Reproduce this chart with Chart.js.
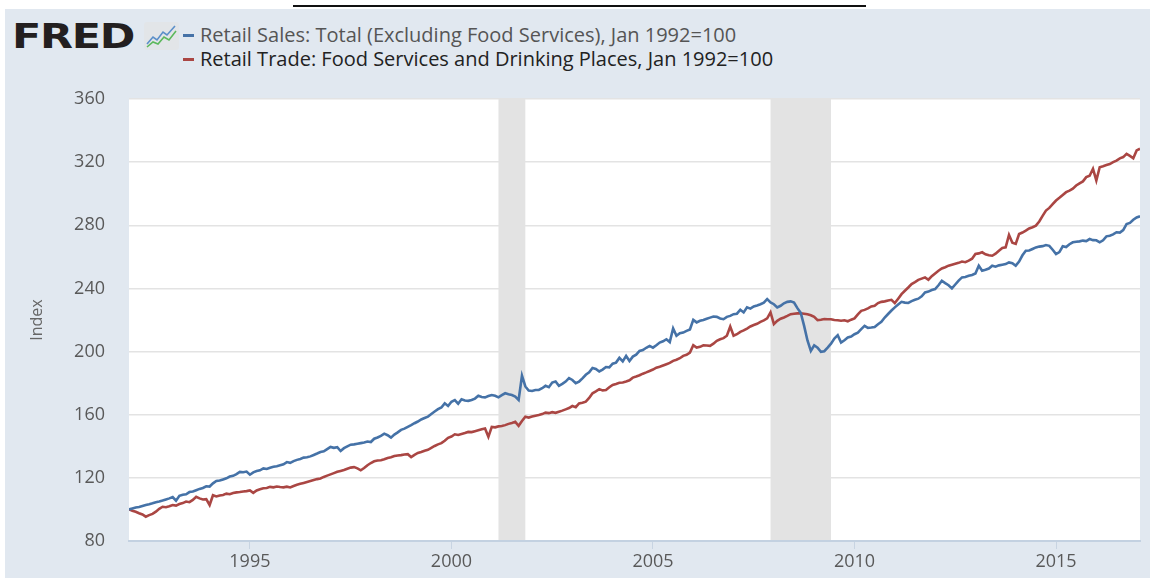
<!DOCTYPE html>
<html>
<head>
<meta charset="utf-8">
<script src="https://cdn.jsdelivr.net/npm/chart.js@4"></script>
<style>
  body { margin: 0; width: 1150px; height: 578px; overflow: hidden; position: relative; background: #fff; font-family: "Open Sans", sans-serif; }
  .frame { position: absolute; left: 5px; top: 9px; width: 1145px; height: 569px; background: #e1e8f0; }
  .rule { position: absolute; left: 293px; top: 5px; width: 573px; height: 2px; background: #111; }
  .logo { position: absolute; left: 12px; top: 17px; font: bold 33px "DejaVu Sans", sans-serif; color: #231f20; transform: scaleX(1.3); transform-origin: left top; letter-spacing: -1px; }
  .icon { position: absolute; left: 144px; top: 22px; }
  .item { position: absolute; left: 183px; height: 22px; }
  .item i { position: absolute; left: 0; top: 10px; width: 11px; height: 3px; }
  .item span { position: absolute; left: 17px; top: 0; line-height: 22px; font-size: 20px; white-space: nowrap; }
  #wrap { position: absolute; left: 0; top: 0; width: 1150px; height: 578px; }
</style>
</head>
<body>
<div class="frame"></div>
<div class="rule"></div>
<div class="logo">FRED</div>
<svg class="icon" width="35" height="28" viewBox="0 0 35 28">
  <rect x="0" y="0" width="35" height="28" rx="3" fill="#e2e5e8"/>
  <polyline points="3,22 9,15 13,18 19,10 23,13 31,4" fill="none" stroke="#5b8fc9" stroke-width="1.6"/>
  <polyline points="3,25 9,20 14,22 20,15 25,18 32,9" fill="none" stroke="#5cb85c" stroke-width="1.6"/>
</svg>
<div class="item" style="top:24px"><i style="background:#4572a7"></i><span style="color:#555">Retail Sales: Total (Excluding Food Services), Jan 1992=100</span></div>
<div class="item" style="top:48px"><i style="background:#aa4643"></i><span style="color:#222">Retail Trade: Food Services and Drinking Places, Jan 1992=100</span></div>
<div id="wrap"><canvas id="fredChart" width="1150" height="578"></canvas></div>
<script>
// SERIES (monthly, Jan 1992 - Feb 2017)
const startYear = 1992;

const retailSales = [
  100.0, 100.6, 101.2, 101.5, 102.2, 102.8, 103.3, 103.9, 104.6, 105.0, 105.6, 106.3,
  107.0, 107.8, 105.5, 108.6, 109.3, 109.6, 111.0, 111.4, 112.2, 113.0, 113.6, 114.7,
  114.5, 116.5, 118.0, 118.3, 119.0, 119.7, 120.8, 121.3, 122.4, 123.8, 123.6, 124.0,
  122.0, 123.5, 124.3, 124.8, 126.0, 125.6, 126.4, 127.0, 127.4, 128.0, 128.6, 130.0,
  129.5, 130.6, 131.4, 132.0, 132.8, 133.0, 133.6, 134.5, 135.4, 136.4, 136.8, 138.2,
  139.6, 139.0, 139.4, 137.0, 138.8, 139.9, 141.0, 141.2, 141.6, 142.0, 142.4, 143.0,
  142.7, 144.8, 145.6, 146.6, 148.0, 147.0, 145.5, 147.4, 148.8, 150.4, 151.2, 152.3,
  153.4, 154.6, 155.7, 157.0, 157.9, 158.8, 160.4, 162.0, 163.5, 164.6, 167.2, 165.5,
  168.2, 169.3, 167.0, 169.8, 169.0, 168.8, 169.3, 170.2, 172.0, 171.2, 171.0, 171.8,
  172.5, 172.0, 171.0, 172.4, 173.6, 173.0, 172.5, 171.5, 169.3, 184.7, 177.9, 175.3,
  175.0, 175.7, 175.7, 176.8, 178.3, 177.4, 180.4, 181.0, 178.3, 179.5, 181.0, 183.2,
  182.0, 180.0, 181.0, 183.0, 185.3, 186.8, 189.6, 189.0, 187.4, 188.6, 190.2, 190.0,
  192.3, 193.0, 196.0, 193.8, 197.3, 194.0, 196.8, 198.0, 200.4, 201.0, 202.4, 203.6,
  202.5, 204.0, 205.7, 206.5, 207.8, 206.0, 214.6, 210.0, 211.6, 212.0, 213.1, 214.0,
  220.1, 218.5, 219.5, 220.0, 220.8, 221.5, 222.2, 222.0, 221.0, 220.5, 222.0, 222.6,
  223.7, 224.0, 226.5, 224.8, 228.0, 227.2, 228.6, 229.2, 230.0, 231.0, 233.2, 231.1,
  230.0, 228.0, 229.0, 230.6, 231.5, 231.8, 231.1, 227.5, 224.5, 216.3, 207.0, 200.4,
  204.0, 202.5, 199.8, 200.2, 202.5, 205.0, 208.3, 210.4, 205.7, 207.2, 208.9, 209.5,
  211.0, 212.0, 214.2, 216.3, 215.0, 215.2, 215.5, 217.3, 218.8, 221.6, 223.8, 226.0,
  228.0, 229.8, 231.5, 231.0, 230.8, 232.0, 232.8, 233.5, 235.0, 237.5, 238.0, 239.0,
  239.6, 242.0, 244.9, 243.4, 242.0, 240.0, 242.5, 245.0, 247.0, 247.2, 248.0, 248.5,
  249.5, 254.4, 251.2, 251.8, 252.6, 254.4, 253.8, 254.6, 255.0, 255.4, 256.5, 256.0,
  254.4, 257.0, 261.0, 263.9, 264.0, 265.0, 266.0, 266.5, 266.8, 267.5, 267.0, 264.5,
  261.8, 263.0, 266.7, 266.2, 268.0, 269.2, 269.6, 269.8, 270.3, 270.0, 271.3, 270.6,
  270.5, 269.2, 270.5, 273.0, 273.4, 274.2, 275.6, 275.4, 277.0, 280.8, 281.5, 283.5,
  285.0, 285.7
];

const foodServices = [
  100.0, 99.2, 98.5, 97.6, 96.8, 95.4, 96.4, 97.2, 98.6, 100.4, 101.7, 101.4,
  102.0, 102.8, 102.4, 103.4, 104.0, 105.0, 104.6, 106.0, 108.0, 107.0, 106.3, 106.5,
  102.8, 109.0, 108.2, 108.8, 109.2, 110.0, 109.6, 110.4, 110.8, 111.0, 111.4, 111.6,
  112.0, 110.5, 112.0, 112.8, 113.4, 113.6, 114.3, 114.0, 114.5, 114.2, 114.0, 114.4,
  113.9, 114.8, 115.6, 116.2, 116.8, 117.4, 118.0, 118.6, 119.2, 119.6, 120.6, 121.4,
  122.2, 123.0, 123.8, 124.4, 125.0, 125.8, 126.5, 126.8, 126.0, 124.8, 126.2, 128.0,
  129.4, 130.5, 131.0, 131.2, 131.8, 132.6, 133.0, 133.8, 134.2, 134.4, 134.8, 135.0,
  133.2, 134.6, 135.8, 136.4, 137.2, 137.8, 139.0, 140.2, 141.2, 142.0, 143.5, 145.4,
  146.2, 147.6, 147.2, 147.8, 148.4, 149.1, 149.0, 149.6, 150.2, 150.8, 151.3, 146.0,
  152.3, 152.0, 152.6, 152.8, 153.4, 154.2, 154.8, 155.5, 153.0, 156.0, 158.7, 158.2,
  158.8, 159.4, 159.8, 160.4, 161.3, 161.0, 161.6, 161.2, 161.9, 162.6, 163.4, 164.2,
  165.5, 164.8, 167.2, 167.6, 168.3, 170.6, 173.6, 174.8, 176.2, 175.4, 175.7, 177.4,
  178.9, 179.4, 180.2, 180.4, 181.0, 181.8, 183.5, 184.2, 185.0, 186.0, 186.8, 187.7,
  188.6, 189.8, 190.4, 191.2, 192.0, 192.8, 194.1, 194.8, 195.8, 197.3, 198.0, 199.4,
  204.0, 202.5, 203.0, 204.0, 203.8, 203.6, 205.0, 206.8, 207.8, 208.5, 210.0, 215.9,
  210.0, 211.0, 212.5, 213.4, 214.6, 215.9, 216.8, 217.6, 218.8, 219.8, 221.0, 224.8,
  217.4, 219.5, 220.8, 221.6, 222.6, 223.7, 224.0, 224.2, 224.3, 224.0, 223.6, 223.0,
  222.0, 219.9, 220.2, 220.6, 220.5, 220.5, 220.0, 219.8, 219.5, 219.8, 219.2, 220.2,
  221.0, 223.6, 225.8, 226.4, 227.4, 228.6, 229.0, 230.7, 231.5, 231.8, 232.4, 232.8,
  230.7, 233.5, 236.4, 238.5, 240.6, 242.8, 244.0, 245.4, 246.2, 247.0, 245.5, 247.8,
  249.5, 251.2, 252.6, 253.4, 254.4, 255.0, 255.6, 256.2, 257.0, 256.6, 257.6, 258.8,
  261.8, 262.2, 262.9, 261.6, 261.0, 260.7, 262.0, 263.9, 265.6, 266.0, 273.9, 269.0,
  268.2, 274.5, 275.4, 276.6, 278.0, 278.8, 279.8, 282.4, 286.0, 289.3, 291.0, 293.4,
  295.7, 297.4, 299.2, 301.0, 302.0, 303.2, 305.2, 306.6, 307.8, 310.5, 311.4, 315.8,
  308.4, 316.8, 317.4, 318.2, 318.8, 320.0, 321.0, 322.4, 323.2, 325.3, 324.0, 322.5,
  327.4, 328.5
];

// AXES
const yearTicks = [1995, 2000, 2005, 2010, 2015];
const yTicks = [80, 120, 160, 200, 240, 280, 320, 360];

// RECESSIONS (shaded)
const recessionStart = [2001.167, 2007.917];
const recessionEnd = [2001.833, 2009.417];

const toPoints = (arr) => arr.map((v, i) => ({ x: startYear + i / 12, y: v }));
const lastX = startYear + (retailSales.length - 1) / 12;

const plotBackground = {
  id: 'plotBackground',
  beforeDraw(chart) {
    const { ctx, chartArea: a, scales: { x } } = chart;
    ctx.save();
    ctx.fillStyle = '#ffffff';
    ctx.fillRect(a.left, a.top, a.right - a.left, a.bottom - a.top);
    ctx.fillStyle = '#e3e3e3';
    recessionStart.forEach((s, i) => {
      const x0 = x.getPixelForValue(s);
      const x1 = x.getPixelForValue(recessionEnd[i]);
      ctx.fillRect(x0, a.top, x1 - x0, a.bottom - a.top);
    });
    ctx.restore();
  }
};

new Chart(document.getElementById('fredChart'), {
  type: 'line',
  data: {
    datasets: [
      {
        label: 'Retail Sales: Total (Excluding Food Services), Jan 1992=100',
        data: toPoints(retailSales),
        borderColor: '#4572a7',
        borderWidth: 2.6,
        pointRadius: 0,
        tension: 0
      },
      {
        label: 'Retail Trade: Food Services and Drinking Places, Jan 1992=100',
        data: toPoints(foodServices),
        borderColor: '#aa4643',
        borderWidth: 2.6,
        pointRadius: 0,
        tension: 0
      }
    ]
  },
  options: {
    responsive: false,
    animation: false,
    layout: { padding: { top: 99, right: 10, bottom: 0, left: 0 } },
    plugins: { legend: { display: false }, tooltip: { enabled: false } },
    scales: {
      x: {
        type: 'linear',
        min: startYear,
        max: lastX,
        afterBuildTicks: (axis) => { axis.ticks = yearTicks.map((v) => ({ value: v })); },
        afterFit: (axis) => { axis.height = 37; },
        ticks: {
          font: { family: 'Open Sans', size: 18 },
          color: '#595959',
          padding: 2,
          maxRotation: 0,
          callback: (value) => String(value)
        },
        grid: { drawOnChartArea: false, drawTicks: true, tickLength: 8, color: '#c8d4e2' },
        border: { color: '#c3d1e1', width: 2 }
      },
      y: {
        min: 80,
        max: 360,
        afterBuildTicks: (axis) => { axis.ticks = yTicks.map((v) => ({ value: v })); },
        afterFit: (axis) => { axis.width = 129; },
        ticks: {
          font: { family: 'Open Sans', size: 18 },
          color: '#595959',
          padding: 24
        },
        grid: {
          drawTicks: false,
          lineWidth: 1.5,
          color: (ctx) => (ctx.tick && ctx.tick.value === 80 ? 'rgba(0,0,0,0)' : '#e3e3e3')
        },
        border: { display: false },
        title: {
          display: true,
          text: 'Index',
          font: { family: 'Open Sans', size: 16 },
          color: '#666',
          padding: { top: 28, bottom: 0 }
        }
      }
    }
  },
  plugins: [plotBackground]
});
</script>
</body>
</html>
